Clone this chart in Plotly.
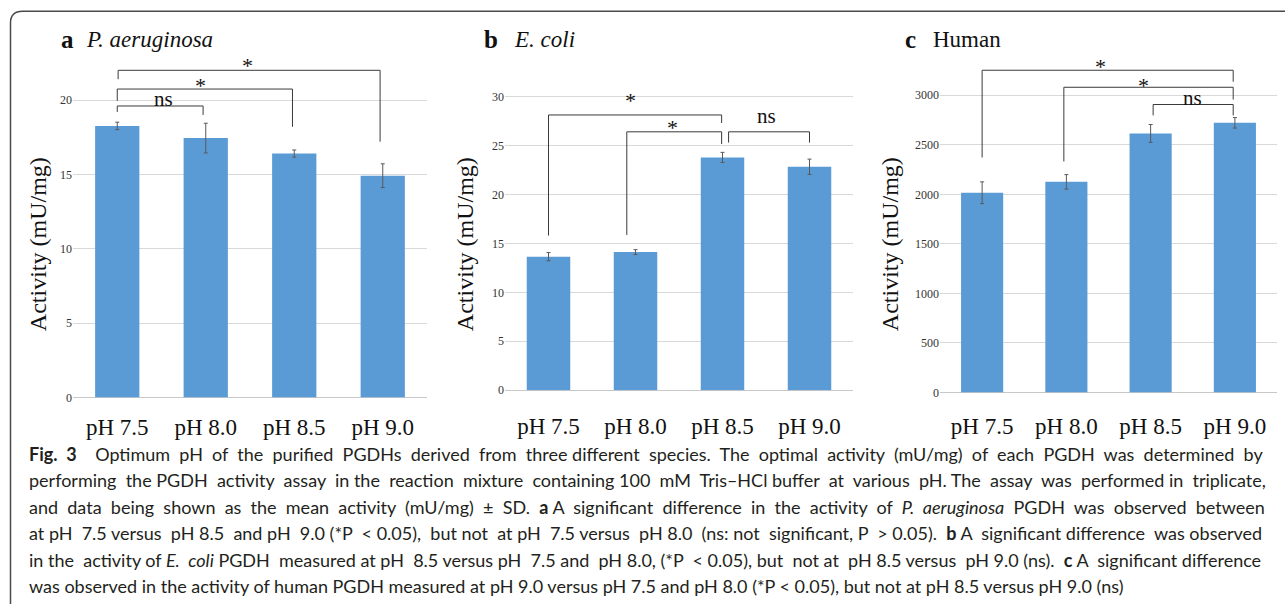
import plotly.graph_objects as go

W, H = 1285, 611

categories = ["pH 7.5", "pH 8.0", "pH 8.5", "pH 9.0"]
tick_text = ["pH 7.5", "pH 8.0", "pH 8.5", "pH 9.0"]

pa_values = [18.26, 17.44, 16.40, 14.91]
pa_sd = [0.25, 1.00, 0.24, 0.80]
ec_values = [13.64, 14.11, 23.78, 22.83]
ec_sd = [0.42, 0.25, 0.52, 0.78]
hu_values = [2016, 2126, 2615, 2722]
hu_sd = [110, 73, 90, 53]

pa_ticks = [0, 5, 10, 15, 20]
ec_ticks = [0, 5, 10, 15, 20, 25, 30]
hu_ticks = [0, 500, 1000, 1500, 2000, 2500, 3000]

# significance brackets: (x_left, x_right, y_top, y_left_end, y_right_end, label, label_x, label_y)
pa_brackets = [
    (0.0, 0.97, 19.6, 19.2, 19.0, "ns", 0.52, 20.1),
    (0.0, 1.98, 20.74, 19.95, 18.2, "*", 0.94, 21.0),
    (0.01, 2.97, 22.0, 21.4, 17.2, "*", 1.47, 22.3),
]
ec_brackets = [
    (0.0, 1.99, 28.12, 15.8, 27.3, "*", 0.94, 29.6),
    (0.9, 1.99, 26.4, 15.86, 25.15, "*", 1.43, 26.8),
    (2.07, 3.0, 26.4, 25.3, 25.3, "ns", 2.5, 28.0),
]
hu_brackets = [
    (0.0, 2.98, 3253, 2372, 3137, "*", 1.4, 3290),
    (0.97, 2.98, 3081, 2332, 2957, "*", 1.92, 3100),
    (2.03, 2.98, 2907, 2797, 2797, "ns", 2.5, 2968),
]

caption_lines = [
    "<b>Fig. 3</b>  Optimum pH of the purified PGDHs derived from three different species. The optimal activity (mU/mg) of each PGDH was determined by",
    "performing the PGDH activity assay in the reaction mixture containing 100 mM Tris–HCl buffer at various pH. The assay was performed in triplicate,",
    "and data being shown as the mean activity (mU/mg) ± SD. <b>a</b> A significant difference in the activity of <i>P. aeruginosa</i> PGDH was observed between",
    "at pH 7.5 versus pH 8.5 and pH 9.0 (*P < 0.05), but not at pH 7.5 versus pH 8.0 (ns: not significant, P > 0.05). <b>b</b> A significant difference was observed",
    "in the activity of <i>E. coli</i> PGDH measured at pH 8.5 versus pH 7.5 and pH 8.0, (*P < 0.05), but not at pH 8.5 versus pH 9.0 (ns). <b>c</b> A significant difference",
    "was observed in the activity of human PGDH measured at pH 9.0 versus pH 7.5 and pH 8.0 (*P < 0.05), but not at pH 8.5 versus pH 9.0 (ns)",
]
# extra word-space units per line to mimic the justified caption
caption_extra = [22, 16, 23, 15, 12, 0]

BAR = "#5B9BD5"
SERIF = "Liberation Serif, Times New Roman, serif"
SANS = "Lato, Open Sans, sans-serif"


def px(x):
    return x / W


def py(y):
    return 1 - y / H


def justify(line, n):
    if n <= 0:
        return line
    parts = line.split(" ")
    gaps = len(parts) - 1
    extra = [0] * gaps
    for k in range(n):
        extra[int((k + 0.5) * gaps / n)] += 1
    out = parts[0]
    for g in range(gaps):
        out += " " + "\u00a0" * extra[g] + parts[g + 1]
    return out


panels = [
    dict(v=pa_values, sd=pa_sd, ticks=pa_ticks, yr=[0, 23], xd=(73, 427), yd=(402, 402 - 23 * 15.04),
         br=pa_brackets, letter="a", name="P. aeruginosa", lx=59, nx=84, it=True, tx=38, tl=9),
    dict(v=ec_values, sd=ec_sd, ticks=ec_ticks, yr=[0, 31], xd=(505, 853), yd=(394.7, 394.7 - 31 * 9.9),
         br=ec_brackets, letter="b", name="E. coli", lx=482, nx=512, it=True, tx=465, tl=15),
    dict(v=hu_values, sd=hu_sd, ticks=hu_ticks, yr=[0, 3400], xd=(940, 1277), yd=(397, 397 - 3400 * 0.1002),
         br=hu_brackets, letter="c", name="Human", lx=903, nx=931, it=False, tx=890, tl=13),
]

fig = go.Figure()
shapes = []
annotations = []
layout = {}

for i, p in enumerate(panels):
    sfx = "" if i == 0 else str(i + 1)
    xa, ya = "x" + sfx, "y" + sfx
    fig.add_trace(go.Bar(
        x=list(range(len(categories))), y=p["v"], xaxis=xa, yaxis=ya,
        marker=dict(color=BAR, line=dict(width=0)), width=0.5,
        error_y=dict(type="data", array=p["sd"], color="#595959", thickness=1, width=2),
        showlegend=False, hoverinfo="y",
    ))
    layout["xaxis" + sfx] = dict(
        domain=[px(p["xd"][0]), px(p["xd"][1])], range=[-0.5, 3.5], anchor=ya,
        tickvals=list(range(len(categories))), ticktext=tick_text,
        tickfont=dict(family=SERIF, size=23, color="#111111"),
        showgrid=False, showline=False, zeroline=False,
        ticks="outside", ticklen=p["tl"], tickcolor="rgba(0,0,0,0)",
        fixedrange=True,
    )
    layout["yaxis" + sfx] = dict(
        domain=[py(p["yd"][0]), py(p["yd"][1])], range=p["yr"], anchor=xa,
        tickvals=p["ticks"], tickfont=dict(family=SERIF, size=12, color="#333333"),
        showgrid=True, gridcolor="#D9D9D9", gridwidth=1,
        zeroline=True, zerolinecolor="#C8C8C8", zerolinewidth=1,
        showline=False, ticks="", fixedrange=True,
    )
    for (xl, xr, yt, yle, yre, lab, lx, ly) in p["br"]:
        shapes.append(dict(
            type="path", xref=xa, yref=ya,
            path=f"M {xl},{yle} L {xl},{yt} L {xr},{yt} L {xr},{yre}",
            line=dict(color="#3a3a3a", width=1),
        ))
        annotations.append(dict(
            x=lx, y=ly, xref=xa, yref=ya, text=lab, showarrow=False,
            font=dict(family=SERIF, size=21 if lab == "ns" else 22, color="#111111"),
            xanchor="center", yanchor="middle",
        ))
    annotations.append(dict(
        x=px(p["lx"]), y=py(40), xref="paper", yref="paper", text="<b>" + p["letter"] + "</b>",
        showarrow=False, xanchor="left", yanchor="middle",
        font=dict(family=SERIF, size=25, color="#111111"),
    ))
    annotations.append(dict(
        x=px(p["nx"]), y=py(40), xref="paper", yref="paper",
        text=("<i>" + p["name"] + "</i>") if p["it"] else p["name"],
        showarrow=False, xanchor="left", yanchor="middle",
        font=dict(family=SERIF, size=23, color="#111111"),
    ))
    annotations.append(dict(
        x=px(p["tx"]), y=py(247), xref="paper", yref="paper", text="Activity (mU/mg)",
        textangle=-90, showarrow=False, xanchor="center", yanchor="middle",
        font=dict(family=SERIF, size=24, color="#111111"),
    ))

for k, line in enumerate(caption_lines):
    annotations.append(dict(
        x=px(27), y=py(459 + 26.8 * k), xref="paper", yref="paper",
        text=justify(line, caption_extra[k]),
        showarrow=False, xanchor="left", yanchor="middle", align="left",
        font=dict(family=SANS, size=18, color="#231f20"),
    ))

r = 12
x0, y0 = 10.5, 11.5
frame = (f"M {px(W)},{py(y0)} L {px(x0 + r)},{py(y0)} "
         f"Q {px(x0)},{py(y0)} {px(x0)},{py(y0 + r)} L {px(x0)},{py(H)}")
shapes.append(dict(type="path", xref="paper", yref="paper", path=frame,
                   line=dict(color="#4a4a4a", width=1.5)))

fig.update_layout(
    width=W, height=H, margin=dict(l=0, r=0, t=0, b=0),
    paper_bgcolor="white", plot_bgcolor="white",
    shapes=shapes, annotations=annotations, bargap=0.5,
    **layout,
)

fig.write_html("out.html", config={"displayModeBar": False},
               post_script="document.body.style.margin='0';document.body.style.overflow='hidden';")
